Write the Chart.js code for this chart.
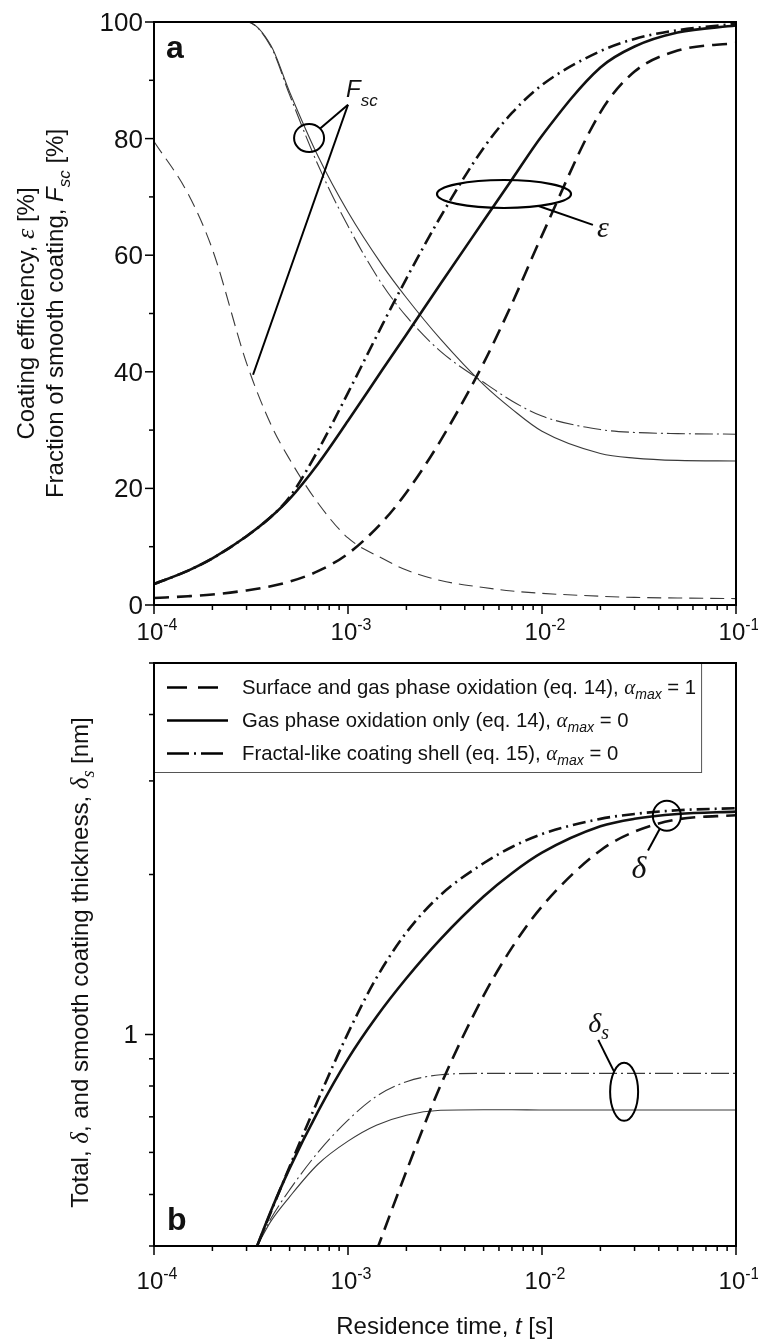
<!DOCTYPE html>
<html>
<head>
<meta charset="utf-8">
<title>Coating efficiency and thickness vs residence time</title>
<script src="https://cdn.jsdelivr.net/npm/chart.js@4.4.1/dist/chart.umd.min.js"></script>
<style>
  html, body { margin: 0; padding: 0; background: #fff; }
  #wrap { position: relative; width: 758px; height: 1340px; overflow: hidden; }
  canvas { position: absolute; left: 0; }
  #chartA { top: 0; }
  #chartB { top: 650px; }
</style>
</head>
<body>
<div id="wrap">
  <canvas id="chartA" width="758" height="650"></canvas>
  <canvas id="chartB" width="758" height="690"></canvas>
</div>
<script>
// ---- data ----

// panel a: residence time [s]
const timeA = [1e-4, 1.5e-4, 2e-4, 3e-4, 4e-4, 5e-4, 7e-4, 1e-3, 1.5e-3, 2e-3, 3e-3, 5e-3, 7e-3, 1e-2, 2e-2, 3e-2, 5e-2, 1e-1];
// coating efficiency, eps [%]
const effSurface = [1.2, 1.5, 1.8, 2.5, 3.2, 4.0, 5.8, 8.8, 14.2, 19.3, 28.2, 41.5, 51.7, 63.4, 84.5, 91.5, 95.1, 96.4];
const effGas = [3.6, 5.9, 8.0, 11.8, 15.1, 18.2, 24.2, 31.6, 40.3, 46.4, 55.1, 65.9, 73.0, 80.5, 92.2, 95.8, 98.2, 99.4];
const effFractal = [3.6, 5.9, 8.0, 11.8, 15.1, 18.5, 26.5, 36.4, 48.0, 56.0, 66.6, 78.4, 84.4, 89.2, 95.0, 97.1, 98.6, 99.7];
// fraction of smooth coating, Fsc [%]
const fscSurface = [79.5, 70.5, 61, 41.5, 31, 25, 17.5, 11.5, 8, 6, 4.2, 3.0, 2.4, 2.0, 1.5, 1.3, 1.2, 1.1];
const fscGas = [100, 100, 100, 100, 96, 88, 77, 67.4, 58.3, 52.7, 45.6, 37.8, 33.6, 29.8, 26.0, 25.2, 24.8, 24.7];
const fscFractal = [100, 100, 100, 100, 95.8, 87.5, 75.5, 65, 55, 49.5, 43.5, 38.2, 35, 32.4, 30.1, 29.6, 29.4, 29.3];

// panel b: residence time [s]
const timeB = [3.4e-4, 4e-4, 5e-4, 7e-4, 1e-3, 1.4e-3, 2e-3, 3e-3, 5e-3, 7e-3, 1e-2, 2e-2, 3e-2, 5e-2, 1e-1];
// total coating thickness, delta [nm]
const deltaSurface = [null, null, null, null, null, 0.391, 0.553, 0.802, 1.183, 1.457, 1.742, 2.22, 2.408, 2.54, 2.585];
const deltaGas = [0.40, 0.465, 0.560, 0.716, 0.900, 1.079, 1.276, 1.512, 1.818, 2.011, 2.198, 2.464, 2.546, 2.599, 2.626];
const deltaFractal = [0.40, 0.463, 0.564, 0.753, 1.006, 1.277, 1.556, 1.83, 2.10, 2.253, 2.383, 2.545, 2.60, 2.642, 2.665];
// smooth coating thickness, delta_s [nm]
const smoothGas = [0.40, 0.445, 0.495, 0.57, 0.63, 0.675, 0.705, 0.72, 0.722, 0.722, 0.721, 0.721, 0.721, 0.721, 0.721];
const smoothFractal = [0.40, 0.45, 0.51, 0.60, 0.69, 0.765, 0.815, 0.84, 0.845, 0.845, 0.845, 0.845, 0.845, 0.845, 0.845];

// ticks
const xTickExp = [-4, -3, -2, -1];
const yTicksA = [0, 20, 40, 60, 80, 100];
const yMinorA = [10, 30, 50, 70, 90];
const yTicksB = [1];
const yMinorB = [0.4, 0.5, 0.6, 0.7, 0.8, 0.9, 2, 3, 4, 5];

// legend (panel b)
const legendText = ['Surface and gas phase oxidation (eq. 14), ', 'Gas phase oxidation only (eq. 14), ', 'Fractal-like coating shell (eq. 15), '];
const legendAlpha = ['1', '0', '0'];

// ---- styles ----
const SANS = '"Liberation Sans", Arial, Helvetica, sans-serif';
const SERIF = '"Liberation Serif", "Times New Roman", serif';
const INK = '#111';
const THIN_INK = '#3a3a3a';
const THICK = 2.6, THIN = 1.1;
const DASH = [15, 8], DASHDOT = [13, 5, 2, 5];
const THIN_DASH = [14, 7], THIN_DASHDOT = [18, 4, 2, 4];

function pts(times, vals) {
  return times.map((t, i) => ({ x: t, y: vals[i] })).filter(p => p.y !== null);
}

function curve(label, data, width, dash, color) {
  return {
    label: label, data: data,
    borderColor: color, borderWidth: width, borderDash: dash,
    borderCapStyle: 'butt', pointRadius: 0, fill: false,
    cubicInterpolationMode: 'monotone'
  };
}

// text helpers: a run is a list of pieces with their own font
function setFont(ctx, p) {
  ctx.font = (p.st || 'normal') + ' ' + (p.w || 'normal') + ' ' + p.s + 'px ' + (p.f || SANS);
}
function runWidth(ctx, parts) {
  let w = 0;
  parts.forEach(p => { setFont(ctx, p); w += ctx.measureText(p.t).width; });
  return w;
}
function drawRun(ctx, parts, x, y, align) {
  const w = runWidth(ctx, parts);
  let cx = align === 'center' ? x - w / 2 : align === 'right' ? x - w : x;
  ctx.textAlign = 'left';
  ctx.textBaseline = 'alphabetic';
  parts.forEach(p => {
    setFont(ctx, p);
    ctx.fillText(p.t, cx, y + (p.dy || 0));
    cx += ctx.measureText(p.t).width;
  });
}
function drawRotated(ctx, parts, x, y) {
  ctx.save();
  ctx.translate(x, y);
  ctx.rotate(-Math.PI / 2);
  drawRun(ctx, parts, 0, 0, 'center');
  ctx.restore();
}
function ellipse(ctx, cx, cy, rx, ry) {
  ctx.beginPath();
  ctx.ellipse(cx, cy, rx, ry, 0, 0, 2 * Math.PI);
  ctx.stroke();
}
// leader line from the rim of an ellipse to a point
function leader(ctx, cx, cy, rx, ry, tx, ty) {
  const a = Math.atan2((ty - cy) / ry, (tx - cx) / rx);
  ctx.beginPath();
  ctx.moveTo(cx + rx * Math.cos(a), cy + ry * Math.sin(a));
  ctx.lineTo(tx, ty);
  ctx.stroke();
}

function drawFrameAndXTicks(chart, labelDrop) {
  const ctx = chart.ctx, ca = chart.chartArea, xs = chart.scales.x;
  ctx.strokeStyle = '#000';
  ctx.fillStyle = INK;
  ctx.lineWidth = 2;
  ctx.strokeRect(ca.left, ca.top, ca.right - ca.left, ca.bottom - ca.top);
  ctx.lineWidth = 1.5;
  xTickExp.forEach((e, i) => {
    const major = Math.pow(10, e);
    let px = xs.getPixelForValue(major);
    ctx.beginPath(); ctx.moveTo(px, ca.bottom); ctx.lineTo(px, ca.bottom + 9); ctx.stroke();
    drawRun(ctx, [{ t: '10', s: 24 }, { t: String(e), s: 16, dy: -10 }], px + 3, ca.bottom + labelDrop, 'center');
    if (i < xTickExp.length - 1) {
      for (let k = 2; k <= 9; k++) {
        px = xs.getPixelForValue(k * major);
        ctx.beginPath(); ctx.moveTo(px, ca.bottom); ctx.lineTo(px, ca.bottom + 5); ctx.stroke();
      }
    }
  });
}

function drawYTicks(chart, majors, minors, labelGap) {
  const ctx = chart.ctx, ca = chart.chartArea, ys = chart.scales.y;
  ctx.lineWidth = 1.5;
  majors.forEach(v => {
    const py = ys.getPixelForValue(v);
    ctx.beginPath(); ctx.moveTo(ca.left - 9, py); ctx.lineTo(ca.left, py); ctx.stroke();
    drawRun(ctx, [{ t: String(v), s: 26 }], ca.left - labelGap, py + 9, 'right');
  });
  minors.forEach(v => {
    const py = ys.getPixelForValue(v);
    ctx.beginPath(); ctx.moveTo(ca.left - 5, py); ctx.lineTo(ca.left, py); ctx.stroke();
  });
}

// ---- panel a decorations ----
const decoA = {
  id: 'decoA',
  afterDraw(chart) {
    const ctx = chart.ctx, ca = chart.chartArea;
    const X = t => chart.scales.x.getPixelForValue(t);
    const Y = v => chart.scales.y.getPixelForValue(v);
    ctx.save();
    drawFrameAndXTicks(chart, 35);
    drawYTicks(chart, yTicksA, yMinorA, 11);

    // axis title (two lines)
    const midY = (ca.top + ca.bottom) / 2;
    drawRotated(ctx, [{ t: 'Coating efficiency, ', s: 24 }, { t: 'ε', s: 26, st: 'italic', f: SERIF }, { t: ' [%]', s: 24 }], 34, midY);
    drawRotated(ctx, [{ t: 'Fraction of smooth coating, ', s: 24 }, { t: 'F', s: 24, st: 'italic' }, { t: 'sc', s: 17, st: 'italic', dy: 7 }, { t: ' [%]', s: 24 }], 63, midY);

    // panel letter
    drawRun(ctx, [{ t: 'a', s: 32, w: 'bold' }], ca.left + 12, ca.top + 36, 'left');

    // Fsc marker: circle + two leaders
    ctx.strokeStyle = '#000';
    ctx.lineWidth = 2;
    const cx = X(6.3e-4), cy = Y(80.1);
    const vx = X(1e-3), vy = Y(85.8);
    ellipse(ctx, cx, cy, 15, 14);
    leader(ctx, cx, cy, 15, 14, vx, vy);
    ctx.beginPath(); ctx.moveTo(vx, vy); ctx.lineTo(X(3.24e-4), Y(39.5)); ctx.stroke();
    drawRun(ctx, [{ t: 'F', s: 24, st: 'italic' }, { t: 'sc', s: 17, st: 'italic', dy: 9 }], vx - 2, Y(87.1), 'left');

    // eps marker: ellipse + leader
    const ex = X(6.37e-3), ey = Y(70.5);
    ctx.lineWidth = 2.2;
    ellipse(ctx, ex, ey, 67, 14);
    ctx.lineWidth = 2;
    leader(ctx, ex, ey, 67, 14, X(1.83e-2), Y(65.2));
    drawRun(ctx, [{ t: 'ε', s: 30, st: 'italic', f: SERIF }], X(1.92e-2), Y(63.1), 'left');
    ctx.restore();
  }
};

// ---- panel b decorations ----
const decoB = {
  id: 'decoB',
  afterDraw(chart) {
    const ctx = chart.ctx, ca = chart.chartArea;
    const X = t => chart.scales.x.getPixelForValue(t);
    const Y = v => chart.scales.y.getPixelForValue(v);
    ctx.save();
    drawFrameAndXTicks(chart, 43);
    drawYTicks(chart, yTicksB, yMinorB, 16);

    // axis titles
    drawRotated(ctx, [
      { t: 'Total, ', s: 24 }, { t: 'δ', s: 25, st: 'italic', f: SERIF },
      { t: ', and smooth coating thickness, ', s: 24 },
      { t: 'δ', s: 25, st: 'italic', f: SERIF }, { t: 's', s: 18, st: 'italic', f: SERIF, dy: 6 },
      { t: ' [nm]', s: 24 }
    ], 88, (ca.top + ca.bottom) / 2 + 8);
    drawRun(ctx, [{ t: 'Residence time, ', s: 24 }, { t: 't', s: 24, st: 'italic' }, { t: ' [s]', s: 24 }], 445, 684, 'center');

    // panel letter
    drawRun(ctx, [{ t: 'b', s: 32, w: 'bold' }], ca.left + 13, ca.bottom - 16, 'left');

    // legend box
    const textX = ca.left + 88;
    const rows = legendText.map((txt, i) => [
      { t: txt, s: 20.3 },
      { t: 'α', s: 21, st: 'italic', f: SERIF },
      { t: 'max', s: 14, st: 'italic', dy: 5 },
      { t: ' = ' + legendAlpha[i], s: 20.3 }
    ]);
    let maxW = 0;
    rows.forEach(r => { maxW = Math.max(maxW, runWidth(ctx, r)); });
    const boxW = textX - ca.left + maxW + 5;
    ctx.fillStyle = '#fff';
    ctx.fillRect(ca.left, ca.top, boxW, 109);
    ctx.strokeStyle = '#555';
    ctx.lineWidth = 1;
    ctx.strokeRect(ca.left + 0.5, ca.top + 0.5, boxW, 109);
    ctx.fillStyle = INK;
    const dashes = [[20, 11], [], [22, 5, 2, 5]];
    rows.forEach((r, i) => {
      const ry = ca.top + 23.5 + i * 33;
      ctx.strokeStyle = '#000';
      ctx.lineWidth = THICK;
      ctx.setLineDash(dashes[i]);
      ctx.beginPath(); ctx.moveTo(ca.left + 13, ry + 1); ctx.lineTo(ca.left + 74, ry + 1); ctx.stroke();
      ctx.setLineDash([]);
      drawRun(ctx, r, textX, ry + 7, 'left');
    });

    // re-draw the frame edges covered by the legend fill
    ctx.strokeStyle = '#000';
    ctx.lineWidth = 2;
    ctx.beginPath();
    ctx.moveTo(ca.left, ca.bottom); ctx.lineTo(ca.left, ca.top); ctx.lineTo(ca.right, ca.top);
    ctx.stroke();

    // delta marker
    ctx.lineWidth = 2;
    const dx = X(4.4e-2), dy = Y(2.58);
    ellipse(ctx, dx, dy, 14, 15);
    leader(ctx, dx, dy, 14, 15, X(3.52e-2), Y(2.22));
    drawRun(ctx, [{ t: 'δ', s: 32, st: 'italic', f: SERIF }], X(3.16e-2), Y(1.97), 'center');

    // delta_s marker
    const sx = X(2.65e-2), sy = Y(0.78);
    ellipse(ctx, sx, sy, 14, 29);
    leader(ctx, sx, sy, 14, 29, X(1.95e-2), Y(0.977));
    drawRun(ctx, [{ t: 'δ', s: 28, st: 'italic', f: SERIF }, { t: 's', s: 20, st: 'italic', f: SERIF, dy: 7 }], X(1.73e-2), Y(1.01), 'left');
    ctx.restore();
  }
};

function options(yScale, padTop, xHeight) {
  return {
    responsive: false,
    animation: false,
    devicePixelRatio: 1,
    events: [],
    layout: { padding: { top: padTop, right: 22, left: 0, bottom: 0 } },
    plugins: { legend: { display: false }, tooltip: { enabled: false } },
    scales: {
      x: {
        type: 'logarithmic', min: 1e-4, max: 1e-1,
        grid: { display: false }, border: { display: false }, ticks: { display: false },
        afterFit: s => { s.height = xHeight; }
      },
      y: Object.assign({
        grid: { display: false }, border: { display: false }, ticks: { display: false },
        afterFit: s => { s.width = 154; }
      }, yScale)
    }
  };
}

new Chart(document.getElementById('chartA'), {
  type: 'line',
  data: {
    datasets: [
      curve('eps, surface and gas phase oxidation', pts(timeA, effSurface), THICK, DASH, INK),
      curve('eps, gas phase oxidation only', pts(timeA, effGas), THICK, [], INK),
      curve('eps, fractal-like coating shell', pts(timeA, effFractal), THICK, DASHDOT, INK),
      curve('Fsc, surface and gas phase oxidation', pts(timeA, fscSurface), THIN, THIN_DASH, THIN_INK),
      curve('Fsc, gas phase oxidation only', pts(timeA, fscGas), THIN, [], THIN_INK),
      curve('Fsc, fractal-like coating shell', pts(timeA, fscFractal), THIN, THIN_DASHDOT, THIN_INK)
    ]
  },
  options: options({ type: 'linear', min: 0, max: 100 }, 22, 45),
  plugins: [decoA]
});

new Chart(document.getElementById('chartB'), {
  type: 'line',
  data: {
    datasets: [
      curve('delta, surface and gas phase oxidation', pts(timeB, deltaSurface), THICK, DASH, INK),
      curve('delta, gas phase oxidation only', pts(timeB, deltaGas), THICK, [], INK),
      curve('delta, fractal-like coating shell', pts(timeB, deltaFractal), THICK, DASHDOT, INK),
      curve('delta_s, gas phase oxidation only', pts(timeB, smoothGas), THIN, [], THIN_INK),
      curve('delta_s, fractal-like coating shell', pts(timeB, smoothFractal), THIN, THIN_DASHDOT, THIN_INK)
    ]
  },
  options: options({ type: 'logarithmic', min: 0.4, max: 5 }, 13, 94),
  plugins: [decoB]
});
</script>
</body>
</html>
